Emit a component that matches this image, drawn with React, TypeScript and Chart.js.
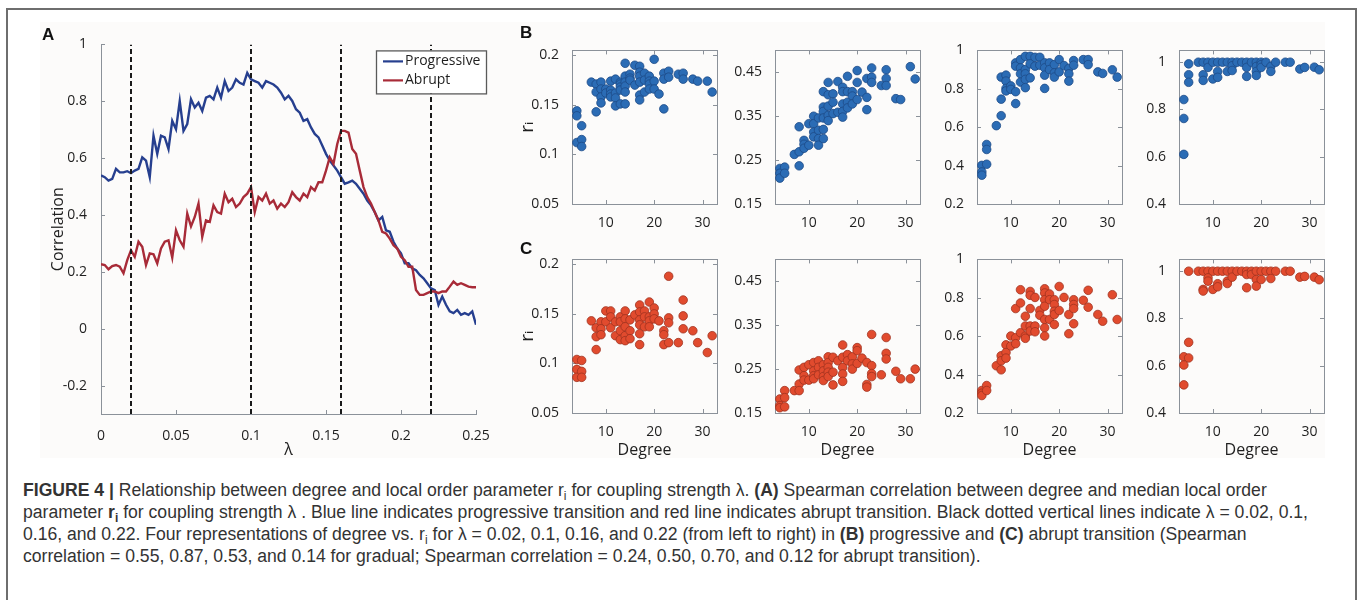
import React, { useEffect, useRef } from 'react';
import { Chart, registerables } from 'chart.js';
Chart.register(...registerables);

// ---------------- DATA ----------------
const lambdaGrid = [
  0, 0.0025, 0.005, 0.0075, 0.01, 0.0125, 0.015, 0.0175, 0.02, 0.0225,
  0.025, 0.0275, 0.03, 0.0325, 0.035, 0.0375, 0.04, 0.0425, 0.045, 0.0475,
  0.05, 0.0525, 0.055, 0.0575, 0.06, 0.0625, 0.065, 0.0675, 0.07, 0.0725,
  0.075, 0.0775, 0.08, 0.0825, 0.085, 0.0875, 0.09, 0.0925, 0.095, 0.0975,
  0.1, 0.1025, 0.105, 0.1075, 0.11, 0.1125, 0.115, 0.1175, 0.12, 0.1225,
  0.125, 0.1275, 0.13, 0.1325, 0.135, 0.1375, 0.14, 0.1425, 0.145, 0.1475,
  0.15, 0.1525, 0.155, 0.1575, 0.16, 0.1625, 0.165, 0.1675, 0.17, 0.1725,
  0.175, 0.1775, 0.18, 0.1825, 0.185, 0.1875, 0.19, 0.1925, 0.195, 0.1975,
  0.2, 0.2025, 0.205, 0.2075, 0.21, 0.2125, 0.215, 0.2175, 0.22, 0.2225,
  0.225, 0.2275, 0.23, 0.2325, 0.235, 0.2375, 0.24, 0.2425, 0.245, 0.2475,
  0.25,
];

const progressive = [
  0.539, 0.533, 0.521, 0.527, 0.562, 0.55, 0.55, 0.554, 0.547, 0.556,
  0.562, 0.603, 0.591, 0.533, 0.679, 0.615, 0.679, 0.673, 0.632, 0.731,
  0.702, 0.801, 0.696, 0.72, 0.807, 0.778, 0.795, 0.766, 0.813, 0.819,
  0.807, 0.848, 0.813, 0.871, 0.836, 0.848, 0.877, 0.865, 0.859, 0.9,
  0.877, 0.871, 0.865, 0.848, 0.871, 0.865, 0.859, 0.848, 0.83, 0.807,
  0.819, 0.801, 0.772, 0.76, 0.731, 0.737, 0.708, 0.685, 0.673, 0.644,
  0.615, 0.591, 0.574, 0.556, 0.533, 0.51, 0.515, 0.521, 0.51, 0.492,
  0.475, 0.451, 0.434, 0.41, 0.381, 0.393, 0.346, 0.341, 0.306, 0.282,
  0.265, 0.23, 0.23, 0.212, 0.206, 0.189, 0.177, 0.16, 0.142, 0.136,
  0.084, 0.113, 0.084, 0.061, 0.055, 0.066, 0.049, 0.055, 0.049, 0.061,
  0.014,
];

const abrupt = [
  0.227, 0.224, 0.209, 0.22, 0.224, 0.218, 0.195, 0.241, 0.276, 0.253,
  0.306, 0.288, 0.224, 0.265, 0.262, 0.23, 0.282, 0.306, 0.311, 0.25,
  0.346, 0.311, 0.288, 0.405, 0.36, 0.393, 0.44, 0.323, 0.381, 0.376,
  0.434, 0.41, 0.405, 0.475, 0.445, 0.457, 0.428, 0.44, 0.463, 0.475,
  0.498, 0.41, 0.463, 0.451, 0.475, 0.44, 0.451, 0.422, 0.44, 0.428,
  0.445, 0.48, 0.463, 0.451, 0.475, 0.463, 0.498, 0.486, 0.515, 0.515,
  0.556, 0.603, 0.58, 0.65, 0.696, 0.696, 0.69, 0.632, 0.615, 0.556,
  0.498, 0.463, 0.44, 0.41, 0.381, 0.341, 0.335, 0.317, 0.294, 0.282,
  0.253, 0.241, 0.218, 0.218, 0.136, 0.119, 0.119, 0.125, 0.131, 0.131,
  0.125, 0.131, 0.131, 0.148, 0.166, 0.154, 0.16, 0.154, 0.148, 0.146,
  0.146,
];

const markerLambdas = [0.02, 0.1, 0.16, 0.22];
const lambdaTicks = [0, 0.05, 0.1, 0.15, 0.2, 0.25];
const corrTicks = [-0.2, 0, 0.2, 0.4, 0.6, 0.8, 1];

const degreeTicks = [10, 20, 30];

// Progressive transition (row B): [degree, r_i]
const B1: [number, number][] = [
  [4, 0.144], [4, 0.139], [4, 0.112], [5, 0.129], [5, 0.115], [5, 0.108],
  [7, 0.173], [8, 0.171], [8, 0.163], [8, 0.143],
  [9, 0.173], [9, 0.166], [9, 0.158], [9, 0.152], [10, 0.166], [10, 0.162],
  [11, 0.174], [11, 0.165], [11, 0.161], [11, 0.158],
  [12, 0.176], [12, 0.162], [12, 0.157], [12, 0.149],
  [13, 0.173], [13, 0.171], [13, 0.168], [13, 0.165], [13, 0.151],
  [14, 0.192], [14, 0.179], [14, 0.173], [14, 0.169], [14, 0.163], [14, 0.151],
  [15, 0.181], [15, 0.177], [15, 0.175], [16, 0.19], [16, 0.17],
  [17, 0.189], [17, 0.183], [17, 0.179], [17, 0.173], [17, 0.16], [17, 0.155],
  [18, 0.182], [18, 0.175], [18, 0.163],
  [19, 0.179], [19, 0.174], [19, 0.171], [19, 0.166],
  [20, 0.196], [20, 0.174], [20, 0.166], [21, 0.161],
  [22, 0.182], [22, 0.176], [22, 0.146], [23, 0.184], [23, 0.178],
  [25, 0.181], [26, 0.182], [26, 0.176], [28, 0.176], [29, 0.174], [31, 0.174], [32, 0.163],
];

const B2: [number, number][] = [
  [4, 0.231], [4, 0.22], [4, 0.209], [5, 0.234], [5, 0.22], [7, 0.263],
  [8, 0.326], [8, 0.269], [8, 0.237], [9, 0.295], [9, 0.286], [9, 0.277],
  [10, 0.333], [10, 0.284], [11, 0.35], [11, 0.333], [11, 0.314], [11, 0.303],
  [12, 0.346], [12, 0.318], [12, 0.299], [12, 0.284],
  [13, 0.406], [13, 0.371], [13, 0.361], [13, 0.346], [13, 0.32], [13, 0.299],
  [14, 0.427], [14, 0.399], [14, 0.373], [14, 0.352], [14, 0.34],
  [15, 0.401], [15, 0.382], [15, 0.356], [16, 0.429], [16, 0.359],
  [17, 0.416], [17, 0.406], [17, 0.378], [17, 0.361], [17, 0.348],
  [18, 0.441], [18, 0.406], [18, 0.382], [18, 0.369],
  [19, 0.406], [19, 0.396], [19, 0.378], [20, 0.454], [20, 0.427], [20, 0.388],
  [21, 0.405], [22, 0.436], [22, 0.393], [22, 0.365],
  [23, 0.46], [23, 0.439], [23, 0.427], [25, 0.42], [26, 0.456], [26, 0.436], [26, 0.42],
  [28, 0.39], [29, 0.388], [31, 0.463], [32, 0.435],
];

const B3: [number, number][] = [
  [4, 0.401], [4, 0.367], [4, 0.35], [5, 0.51], [5, 0.484], [5, 0.407],
  [7, 0.608], [8, 0.861], [8, 0.746], [8, 0.66],
  [9, 0.871], [9, 0.84], [9, 0.802], [9, 0.789], [10, 0.815], [10, 0.797],
  [11, 0.935], [11, 0.918], [11, 0.785], [11, 0.723],
  [12, 0.952], [12, 0.909], [12, 0.878], [12, 0.835],
  [13, 0.969], [13, 0.9], [13, 0.878], [13, 0.849], [13, 0.806],
  [14, 0.969], [14, 0.93], [14, 0.857], [15, 0.964], [15, 0.918],
  [16, 0.964], [16, 0.923], [17, 0.935], [17, 0.909], [17, 0.871], [17, 0.802],
  [18, 0.935], [18, 0.9], [19, 0.926], [19, 0.883], [19, 0.861],
  [20, 0.952], [20, 0.888], [21, 0.921], [22, 0.906], [22, 0.878], [22, 0.84],
  [23, 0.947], [23, 0.923], [25, 0.952], [26, 0.952], [26, 0.926],
  [28, 0.888], [29, 0.88], [31, 0.899], [32, 0.861],
];

const B4: [number, number][] = [
  [4, 0.842], [4, 0.762], [4, 0.61], [5, 0.993], [5, 0.947], [5, 0.915],
  [7, 1.0], [8, 1.0], [8, 0.947], [8, 0.923], [9, 1.0], [9, 0.978],
  [10, 1.0], [10, 0.929], [11, 1.0], [11, 0.961], [11, 0.936], [12, 1.0],
  [13, 1.0], [13, 0.961], [14, 1.0], [14, 0.985], [14, 0.965], [15, 1.0], [16, 1.0],
  [17, 1.0], [17, 0.978], [17, 0.94], [18, 1.0],
  [19, 1.0], [19, 0.982], [19, 0.961], [19, 0.944], [20, 1.0], [20, 0.99], [20, 0.978],
  [21, 1.0], [22, 0.982], [22, 0.961], [23, 1.0], [25, 1.0], [26, 1.0],
  [28, 0.971], [29, 0.978], [31, 0.979], [32, 0.968],
];

// Abrupt transition (row C): [degree, r_i]
const C1: [number, number][] = [
  [4, 0.104], [4, 0.094], [4, 0.086], [5, 0.103], [5, 0.092], [5, 0.086],
  [7, 0.143], [8, 0.136], [8, 0.127], [8, 0.114],
  [9, 0.142], [9, 0.135], [9, 0.129], [10, 0.153], [10, 0.142],
  [11, 0.153], [11, 0.147], [11, 0.136], [12, 0.142], [12, 0.128],
  [13, 0.147], [13, 0.142], [13, 0.133], [13, 0.124],
  [14, 0.153], [14, 0.145], [14, 0.137], [14, 0.128], [14, 0.123],
  [15, 0.144], [15, 0.133], [15, 0.125], [16, 0.149],
  [17, 0.159], [17, 0.152], [17, 0.144], [17, 0.139], [17, 0.13], [17, 0.119],
  [18, 0.153], [18, 0.147], [18, 0.137],
  [19, 0.162], [19, 0.147], [19, 0.143], [19, 0.137],
  [20, 0.156], [20, 0.15], [20, 0.145], [21, 0.143],
  [22, 0.133], [22, 0.129], [22, 0.119],
  [23, 0.188], [23, 0.146], [23, 0.141], [23, 0.121], [25, 0.121],
  [26, 0.164], [26, 0.148], [26, 0.135], [28, 0.133], [29, 0.121], [31, 0.111], [32, 0.128],
];

const C2: [number, number][] = [
  [4, 0.182], [4, 0.167], [4, 0.162], [5, 0.201], [5, 0.185], [5, 0.164],
  [7, 0.201], [8, 0.248], [8, 0.216], [8, 0.201],
  [9, 0.254], [9, 0.235], [9, 0.225], [10, 0.26], [10, 0.225],
  [11, 0.265], [11, 0.246], [11, 0.235], [11, 0.228],
  [12, 0.269], [12, 0.254], [12, 0.237],
  [13, 0.26], [13, 0.246], [13, 0.233], [13, 0.224],
  [14, 0.278], [14, 0.265], [14, 0.254], [14, 0.243], [14, 0.233],
  [15, 0.277], [15, 0.243], [15, 0.214], [16, 0.269],
  [17, 0.305], [17, 0.277], [17, 0.254], [17, 0.239], [17, 0.222],
  [18, 0.283], [18, 0.269], [19, 0.278], [19, 0.262], [19, 0.25],
  [20, 0.299], [20, 0.292], [20, 0.263], [21, 0.275],
  [22, 0.265], [22, 0.215], [22, 0.209],
  [23, 0.329], [23, 0.258], [23, 0.24], [23, 0.233], [25, 0.237],
  [26, 0.322], [26, 0.286], [26, 0.273], [28, 0.245], [29, 0.228], [31, 0.228], [32, 0.25],
];

const C3: [number, number][] = [
  [4, 0.317], [4, 0.303], [4, 0.291], [5, 0.343], [5, 0.317],
  [7, 0.446], [8, 0.498], [8, 0.472], [8, 0.425],
  [9, 0.555], [9, 0.515], [9, 0.486], [10, 0.601], [10, 0.549],
  [11, 0.744], [11, 0.592], [11, 0.561],
  [12, 0.842], [12, 0.773], [12, 0.618],
  [13, 0.704], [13, 0.653], [13, 0.601], [13, 0.589],
  [14, 0.833], [14, 0.813], [14, 0.744], [14, 0.653], [14, 0.627],
  [15, 0.802], [15, 0.653], [15, 0.623], [16, 0.734], [16, 0.709],
  [17, 0.847], [17, 0.825], [17, 0.79], [17, 0.756], [17, 0.687], [17, 0.644], [17, 0.601],
  [18, 0.82], [18, 0.79], [18, 0.687],
  [19, 0.79], [19, 0.765], [19, 0.73], [19, 0.713], [19, 0.661],
  [20, 0.859], [20, 0.734], [21, 0.802], [22, 0.713], [22, 0.613],
  [23, 0.79], [23, 0.765], [23, 0.744], [23, 0.665], [25, 0.787],
  [26, 0.839], [26, 0.751], [28, 0.713], [29, 0.678], [31, 0.816], [32, 0.687],
];

const C4: [number, number][] = [
  [4, 0.638], [4, 0.603], [4, 0.519], [5, 1.0], [5, 0.699], [5, 0.633],
  [7, 1.0], [8, 1.0], [8, 0.923], [8, 0.916], [9, 1.0], [9, 0.972], [9, 0.958],
  [10, 1.0], [10, 0.923], [11, 1.0], [11, 0.947], [11, 0.934], [12, 1.0],
  [13, 1.0], [13, 0.958], [13, 0.948], [14, 1.0], [14, 0.975], [15, 1.0], [16, 1.0],
  [17, 1.0], [17, 0.986], [17, 0.93], [18, 1.0], [18, 0.986],
  [19, 1.0], [19, 0.965], [19, 0.937], [20, 1.0], [20, 0.965],
  [21, 1.0], [22, 1.0], [22, 0.969], [23, 1.0], [25, 1.0], [26, 1.0],
  [28, 0.975], [29, 0.978], [31, 0.975], [32, 0.964],
];

const rTicks1 = [0.05, 0.1, 0.15, 0.2];
const rTicks2 = [0.15, 0.25, 0.35, 0.45];
const rTicks3 = [0.2, 0.4, 0.6, 0.8, 1];
const rTicks4 = [0.4, 0.6, 0.8, 1];
const rRanges: [number, number][] = [[0.05, 0.205], [0.15, 0.5], [0.2, 1], [0.4, 1.05]];

// ---------------- STYLE ----------------
const FONT = '"Open Sans", "DejaVu Sans", sans-serif';
const TEXT = '#1f1f1f';
const AXIS = '#8b9199';
const BLUE_LINE = '#263f8f';
const RED_LINE = '#a82b38';
const BLUE_DOT = '#2b6cb5';
const BLUE_DOT_EDGE = '#1d4a86';
const RED_DOT = '#e14b2e';
const RED_DOT_EDGE = '#a0321f';

// inner tick marks + optional box (Matlab-like)
const framePlugin = {
  id: 'frame',
  beforeDatasetsDraw(chart: any, _a: any, opts: any) {
    if (!opts || !opts.enabled) return;
    const { ctx, chartArea: a, scales } = chart;
    const len = opts.tickLength ?? 4;
    ctx.save();
    ctx.strokeStyle = opts.color || AXIS;
    ctx.lineWidth = 1;
    ctx.beginPath();
    scales.x.ticks.forEach((t: any) => {
      const px = Math.round(scales.x.getPixelForValue(t.value)) + 0.5;
      ctx.moveTo(px, a.bottom);
      ctx.lineTo(px, a.bottom - len);
      if (opts.box) {
        ctx.moveTo(px, a.top);
        ctx.lineTo(px, a.top + len);
      }
    });
    scales.y.ticks.forEach((t: any) => {
      const py = Math.round(scales.y.getPixelForValue(t.value)) + 0.5;
      ctx.moveTo(a.left, py);
      ctx.lineTo(a.left + len, py);
      if (opts.box) {
        ctx.moveTo(a.right, py);
        ctx.lineTo(a.right - len, py);
      }
    });
    ctx.stroke();
    if (opts.box) {
      ctx.strokeRect(Math.round(a.left) + 0.5, Math.round(a.top) + 0.5, Math.round(a.width), Math.round(a.height));
    }
    ctx.restore();
  },
};

// legend box drawn inside the chart area (top right)
const insetLegendPlugin = {
  id: 'insetLegend',
  afterDraw(chart: any, _a: any, opts: any) {
    if (!opts || !opts.enabled) return;
    const { ctx, chartArea: a } = chart;
    const items = chart.data.datasets.filter((d: any) => d.label);
    const x = a.right - 100;
    const y = a.top + 6;
    const w = 110;
    const h = 43;
    ctx.save();
    ctx.fillStyle = '#ffffff';
    ctx.fillRect(x, y, w, h);
    ctx.strokeStyle = '#5a5a5a';
    ctx.lineWidth = 1.3;
    ctx.strokeRect(x + 0.5, y + 0.5, w, h);
    ctx.font = '14px ' + FONT;
    ctx.textBaseline = 'middle';
    items.forEach((d: any, i: number) => {
      const cy = y + 11 + i * 19;
      ctx.strokeStyle = d.borderColor;
      ctx.lineWidth = 2.2;
      ctx.beginPath();
      ctx.moveTo(x + 7, cy);
      ctx.lineTo(x + 27, cy);
      ctx.stroke();
      ctx.fillStyle = TEXT;
      ctx.fillText(d.label, x + 29, cy);
    });
    ctx.restore();
  },
};

const fixedTicks = (vals: number[]) => (axis: any) => {
  axis.ticks = vals.map((v) => ({ value: v }));
};

function makeLineConfig(): any {
  const toPts = (ys: number[]) => lambdaGrid.map((x, i) => ({ x, y: ys[i] }));
  const dashed = markerLambdas.map((lx) => ({
    data: [{ x: lx, y: -0.3 }, { x: lx, y: 1 }],
    borderColor: '#1a1a1a',
    borderWidth: 2,
    borderDash: [5, 3],
    pointRadius: 0,
    order: 0,
  }));
  return {
    type: 'line',
    data: {
      datasets: [
        { label: 'Progressive', data: toPts(progressive), borderColor: BLUE_LINE, borderWidth: 2.4, pointRadius: 0, order: 2 },
        { label: 'Abrupt', data: toPts(abrupt), borderColor: RED_LINE, borderWidth: 2.4, pointRadius: 0, order: 1 },
        ...dashed,
      ],
    },
    options: {
      animation: false,
      responsive: false,
      maintainAspectRatio: false,
      devicePixelRatio: 1,
      layout: { padding: { left: 0, top: 13, right: 24, bottom: 0 } },
      plugins: {
        legend: { display: false },
        tooltip: { enabled: false },
        frame: { enabled: true, box: false, tickLength: 4 },
        insetLegend: { enabled: true },
      },
      scales: {
        x: {
          type: 'linear',
          min: 0,
          max: 0.25,
          afterBuildTicks: fixedTicks(lambdaTicks),
          afterFit: (s: any) => { s.height = 51; },
          grid: { display: false },
          border: { display: true, color: AXIS, width: 1 },
          ticks: { font: { family: FONT, size: 14 }, color: TEXT, padding: 6, maxRotation: 0, callback: (v: any) => String(v) },
          title: { display: true, text: 'λ', font: { family: FONT, size: 16 }, color: TEXT, padding: { top: 0, bottom: 5 } },
        },
        y: {
          type: 'linear',
          min: -0.3,
          max: 1,
          afterBuildTicks: fixedTicks(corrTicks),
          afterFit: (s: any) => { s.width = 71; },
          grid: { display: false },
          border: { display: true, color: AXIS, width: 1 },
          ticks: { font: { family: FONT, size: 14 }, color: TEXT, padding: 6, callback: (v: any) => String(v) },
          title: { display: true, text: 'Correlation', font: { family: FONT, size: 16 }, color: TEXT, padding: { top: 19, bottom: 0 } },
        },
      },
    },
  };
}

function makeScatterConfig(pts: [number, number][], col: number, rowC: boolean): any {
  const yTicks = [rTicks1, rTicks2, rTicks3, rTicks4][col];
  const [ymin, ymax] = rRanges[col];
  return {
    type: 'scatter',
    data: {
      datasets: [
        {
          data: pts.map(([x, y]) => ({ x, y })),
          backgroundColor: rowC ? RED_DOT : BLUE_DOT,
          borderColor: rowC ? RED_DOT_EDGE : BLUE_DOT_EDGE,
          borderWidth: 0.8,
          pointRadius: 4.3,
        },
      ],
    },
    options: {
      animation: false,
      responsive: false,
      maintainAspectRatio: false,
      devicePixelRatio: 1,
      layout: { padding: { left: 0, top: 12, right: 15, bottom: 0 } },
      plugins: {
        legend: { display: false },
        tooltip: { enabled: false },
        frame: { enabled: true, box: true, tickLength: 4 },
      },
      scales: {
        x: {
          type: 'linear',
          min: 3,
          max: 33,
          afterBuildTicks: fixedTicks(degreeTicks),
          afterFit: (s: any) => { s.height = rowC ? 50 : 24; },
          grid: { display: false },
          border: { display: false },
          ticks: { font: { family: FONT, size: 14 }, color: TEXT, padding: 3, maxRotation: 0, callback: (v: any) => String(v) },
          title: { display: rowC, text: 'Degree', font: { family: FONT, size: 16 }, color: TEXT, padding: { top: 0, bottom: 3 } },
        },
        y: {
          type: 'linear',
          min: ymin,
          max: ymax,
          afterBuildTicks: fixedTicks(yTicks),
          afterFit: (s: any) => { s.width = 70; },
          grid: { display: false },
          border: { display: false },
          ticks: { font: { family: FONT, size: 14 }, color: TEXT, padding: 5, callback: (v: any) => String(v) },
          title: { display: col === 0, text: 'rᵢ', font: { family: FONT, size: 19 }, color: TEXT, padding: { top: 14, bottom: 0 } },
        },
      },
    },
  };
}

function ChartBox({ make, left, top, width, height, plugins }: any) {
  const ref = useRef<HTMLCanvasElement>(null);
  useEffect(() => {
    const cfg = make();
    cfg.plugins = plugins;
    const chart = new Chart(ref.current as HTMLCanvasElement, cfg);
    return () => chart.destroy();
  }, []);
  return (
    <canvas
      ref={ref}
      width={width}
      height={height}
      style={{ position: 'absolute', left, top, width, height }}
    />
  );
}

const plotLefts = [572, 775, 977, 1179];
const rowTops = [49, 258];
const PLOT_W = 145;
const PLOT_H = 155;

const Sub = ({ children }: any) => (
  <sub style={{ fontSize: '0.68em', verticalAlign: '-0.3em', lineHeight: 0 }}>{children}</sub>
);

export default function App() {
  const rows: [number, number][][][] = [[B1, B2, B3, B4], [C1, C2, C3, C4]];
  const letter: React.CSSProperties = {
    position: 'absolute',
    font: 'bold 17px "Liberation Sans", Arial, sans-serif',
    lineHeight: '17px',
    color: '#111',
  };
  return (
    <div style={{ position: 'absolute', left: 0, top: 0, width: 1358, height: 600, background: '#ffffff', overflow: 'hidden' }}>
      <div style={{ position: 'absolute', left: 6, top: 8, width: 1347, height: 620, borderTop: '2px solid #6e6e6e', borderLeft: '2px solid #6e6e6e', borderRight: '2px solid #6e6e6e' }} />
      <div style={{ position: 'absolute', left: 40, top: 22, width: 1285, height: 436, background: '#fcfbfa' }} />
      <ChartBox make={makeLineConfig} plugins={[framePlugin, insetLegendPlugin]} left={30} top={30} width={470} height={435} />
      {rows.map((row, r) =>
        row.map((pts, c) => (
          <ChartBox
            key={`${r}-${c}`}
            make={() => makeScatterConfig(pts, c, r === 1)}
            plugins={[framePlugin]}
            left={plotLefts[c] - 70}
            top={rowTops[r] - 12}
            width={70 + PLOT_W + 15}
            height={12 + PLOT_H + (r === 1 ? 50 : 24)}
          />
        ))
      )}
      <div style={{ ...letter, left: 42, top: 26 }}>A</div>
      <div style={{ ...letter, left: 520, top: 24 }}>B</div>
      <div style={{ ...letter, left: 520, top: 240 }}>C</div>
      <div
        style={{
          position: 'absolute',
          left: 23,
          top: 479,
          font: '17.6px "Liberation Sans", Arial, sans-serif',
          lineHeight: '22px',
          color: '#333',
          whiteSpace: 'nowrap',
        }}
      >
        <div>
          <b>FIGURE 4 |</b> Relationship between degree and local order parameter r<Sub>i</Sub> for coupling strength λ. <b>(A)</b> Spearman correlation between degree and median local order
        </div>
        <div>
          parameter <b>r<Sub>i</Sub></b> for coupling strength λ . Blue line indicates progressive transition and red line indicates abrupt transition. Black dotted vertical lines indicate λ = 0.02, 0.1,
        </div>
        <div>
          0.16, and 0.22. Four representations of degree vs. r<Sub>i</Sub> for λ = 0.02, 0.1, 0.16, and 0.22 (from left to right) in <b>(B)</b> progressive and <b>(C)</b> abrupt transition (Spearman
        </div>
        <div>
          correlation = 0.55, 0.87, 0.53, and 0.14 for gradual; Spearman correlation = 0.24, 0.50, 0.70, and 0.12 for abrupt transition).
        </div>
      </div>
    </div>
  );
}
